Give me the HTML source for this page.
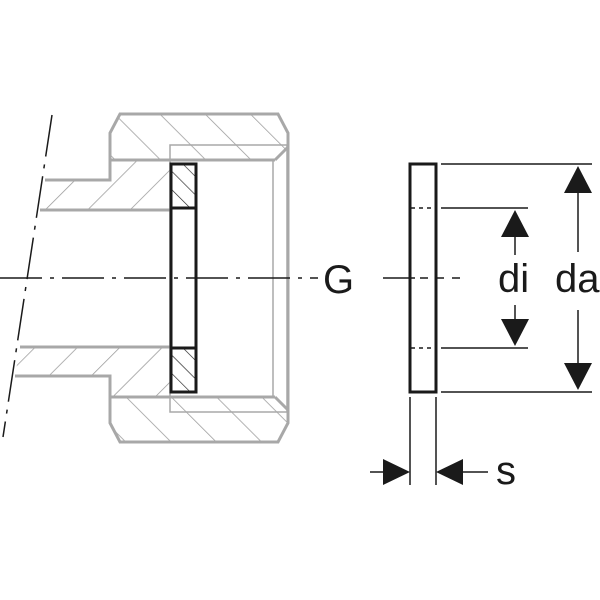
<!DOCTYPE html>
<html><head><style>
html,body{margin:0;padding:0;background:#fff;}
svg{display:block}
text{font-family:"Liberation Sans",sans-serif;fill:#1a1a1a}
</style></head><body>
<svg width="600" height="600" viewBox="0 0 600 600" xmlns="http://www.w3.org/2000/svg">
<defs>
<pattern id="hb" patternUnits="userSpaceOnUse" width="32" height="32" patternTransform="rotate(-45)">
<line x1="0" y1="0" x2="0" y2="32" stroke="#999" stroke-width="1.5"/></pattern>
<pattern id="hf" patternUnits="userSpaceOnUse" width="30" height="30" patternTransform="rotate(45)">
<line x1="0" y1="0" x2="0" y2="30" stroke="#999" stroke-width="1.5"/></pattern>
<pattern id="hg" patternUnits="userSpaceOnUse" width="13" height="13" patternTransform="rotate(-45)">
<line x1="0" y1="0" x2="0" y2="13" stroke="#222" stroke-width="1.3"/></pattern>
</defs>
<polygon points="110,160 110,133 120,114 278,114 288,133 288,147 275,160" fill="url(#hb)"/>
<polygon points="110,397 110,423 120,442 278,442 288,423 288,410 275,397" fill="url(#hb)"/>
<polygon points="45,180 110,180 110,160 170,160 170,210 40,210" fill="url(#hf)"/>
<polygon points="20,347 170,347 170,397 110,397 110,376 15,376" fill="url(#hf)"/>
<g fill="none" stroke="#a8a8a8" stroke-width="3">
<polyline points="110,160 110,133 120,114 278,114 288,133 288,423 278,442 120,442 110,423 110,397"/>
<line x1="110" y1="160" x2="275" y2="160"/><line x1="275" y1="160" x2="288" y2="147"/>
<line x1="110" y1="397" x2="275" y2="397"/><line x1="275" y1="397" x2="288" y2="410"/>
<polyline points="45,180 110,180 110,160"/>
<line x1="40" y1="210" x2="170" y2="210"/>
<line x1="20" y1="347" x2="170" y2="347"/>
<polyline points="15,376 110,376 110,397"/>
</g>
<g fill="none" stroke="#a8a8a8" stroke-width="1.5">
<rect x="170" y="145" width="117" height="267"/>
<line x1="273" y1="160" x2="273" y2="397"/>
</g>
<rect x="170" y="164" width="26" height="44" fill="#fff"/>
<rect x="170" y="348" width="26" height="44" fill="#fff"/>
<rect x="170" y="164" width="26" height="44" fill="url(#hg)"/>
<rect x="170" y="348" width="26" height="44" fill="url(#hg)"/>
<rect x="171" y="164" width="25" height="228" fill="none" stroke="#1a1a1a" stroke-width="3"/>
<line x1="171" y1="208" x2="196" y2="208" stroke="#1a1a1a" stroke-width="3"/>
<line x1="171" y1="348" x2="196" y2="348" stroke="#1a1a1a" stroke-width="3"/>
<line x1="0" y1="278" x2="318" y2="278" stroke="#1a1a1a" stroke-width="1.5" stroke-dasharray="42,8,4,8"/>
<line x1="52" y1="115" x2="3" y2="437" stroke="#1a1a1a" stroke-width="1.5" stroke-dasharray="42,8,4,8"/>
<text x="323" y="293" font-size="40">G</text>
<rect x="410" y="164" width="26" height="228" fill="none" stroke="#1a1a1a" stroke-width="3"/>
<g stroke="#1a1a1a" stroke-width="1.5" fill="none">
<line x1="441" y1="164" x2="592" y2="164"/>
<line x1="441" y1="392" x2="592" y2="392"/>
<line x1="441" y1="208" x2="528" y2="208"/>
<line x1="441" y1="348" x2="528" y2="348"/>
<line x1="411" y1="208" x2="435" y2="208" stroke-dasharray="4,4"/>
<line x1="411" y1="348" x2="435" y2="348" stroke-dasharray="4,4"/>
<line x1="383" y1="278" x2="415" y2="278"/>
<line x1="420" y1="278" x2="465" y2="278" stroke-dasharray="8,8"/>
<line x1="515" y1="236" x2="515" y2="255"/>
<line x1="515" y1="305" x2="515" y2="322"/>
<line x1="578" y1="193" x2="578" y2="252"/>
<line x1="578" y1="310" x2="578" y2="365"/>
<line x1="410" y1="397" x2="410" y2="485"/>
<line x1="436" y1="397" x2="436" y2="485"/>
<line x1="370" y1="472" x2="395" y2="472"/>
<line x1="463" y1="472" x2="488" y2="472"/>
</g>
<g fill="#1a1a1a">
<polygon points="515,210 501,237 529,237"/>
<polygon points="515,346 501,319 529,319"/>
<polygon points="578,166 564,193 592,193"/>
<polygon points="578,390 564,363 592,363"/>
<polygon points="410,472 383,459 383,485"/>
<polygon points="436,472 463,459 463,485"/>
</g>
<text x="498" y="292" font-size="40">di</text>
<text x="555" y="292" font-size="40">da</text>
<text x="496" y="484" font-size="40">s</text>
</svg>
</body></html>
